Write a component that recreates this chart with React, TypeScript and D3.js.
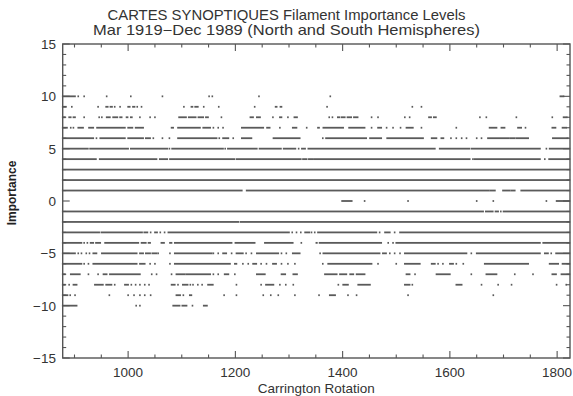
import * as d3 from "d3";

// Carrington rotation extent of the record (Mar 1919 - Dec 1989)
const rotationExtent: [number, number] = [878, 1824];
const importanceExtent: [number, number] = [-15, 15];

const xTickValues = [1000, 1200, 1400, 1600, 1800];
const yTickValues = [-15, -10, -5, 0, 5, 10, 15];

// runs of observed rotations per importance level: [first, last]
const imp10 = [[878, 901], [907, 907], [918, 918], [960, 960], [1005, 1005], [1064, 1064], [1151, 1151], [1157, 1157], [1244, 1244], [1377, 1377], [1806, 1812]];
const imp9 = [[878, 884], [895, 895], [944, 944], [959, 962], [967, 970], [975, 975], [985, 985], [1000, 1003], [1009, 1012], [1017, 1017], [1025, 1025], [1104, 1104], [1118, 1120], [1125, 1130], [1141, 1141], [1169, 1169], [1236, 1236], [1275, 1277], [1284, 1286], [1371, 1371], [1530, 1530], [1547, 1547]];
const imp8 = [[878, 882], [890, 893], [898, 901], [918, 918], [946, 946], [951, 951], [960, 966], [972, 980], [985, 988], [997, 999], [1005, 1007], [1022, 1022], [1041, 1041], [1050, 1050], [1095, 1108], [1113, 1126], [1131, 1140], [1145, 1149], [1174, 1174], [1228, 1233], [1240, 1246], [1270, 1270], [1283, 1286], [1298, 1298], [1310, 1315], [1375, 1375], [1381, 1381], [1391, 1394], [1398, 1404], [1409, 1416], [1421, 1428], [1454, 1454], [1466, 1466], [1516, 1516], [1525, 1525], [1561, 1565], [1570, 1574], [1656, 1656], [1668, 1668], [1724, 1724], [1791, 1791], [1812, 1818]];
const imp7 = [[878, 886], [893, 893], [898, 898], [907, 916], [927, 935], [942, 994], [1000, 1008], [1014, 1028], [1081, 1084], [1093, 1134], [1140, 1153], [1159, 1159], [1168, 1168], [1177, 1177], [1212, 1252], [1259, 1264], [1283, 1283], [1307, 1314], [1333, 1333], [1354, 1356], [1364, 1401], [1412, 1441], [1454, 1454], [1466, 1472], [1482, 1482], [1494, 1494], [1508, 1508], [1519, 1531], [1547, 1547], [1612, 1612], [1674, 1687], [1696, 1702], [1727, 1733], [1741, 1741], [1791, 1797], [1810, 1817]];
const imp6 = [[878, 935], [941, 941], [948, 994], [1000, 1028], [1033, 1041], [1047, 1047], [1064, 1064], [1077, 1077], [1093, 1165], [1170, 1170], [1177, 1187], [1196, 1196], [1212, 1230], [1271, 1320], [1363, 1363], [1369, 1444], [1451, 1472], [1483, 1550], [1566, 1575], [1584, 1588], [1602, 1602], [1612, 1612], [1622, 1622], [1631, 1631], [1650, 1650], [1659, 1659], [1671, 1709], [1712, 1721], [1724, 1746], [1792, 1820]];
const imp5 = [[878, 925], [929, 1000], [1005, 1073], [1077, 1077], [1082, 1177], [1181, 1181], [1186, 1240], [1245, 1285], [1290, 1312], [1318, 1318], [1324, 1330], [1336, 1572], [1581, 1636], [1640, 1768], [1780, 1780], [1786, 1823]];
const imp4 = [[878, 940], [947, 1053], [1059, 1073], [1078, 1198], [1202, 1322], [1326, 1333], [1337, 1345], [1348, 1637], [1643, 1643], [1646, 1768], [1777, 1777], [1785, 1823]];
const imp3 = [[878, 1823]];
const imp2 = [[878, 1823]];
const imp1 = [[878, 1212], [1221, 1673], [1676, 1684], [1699, 1712], [1715, 1721], [1733, 1823]];
const imp0 = [[1399, 1417], [1441, 1441], [1522, 1522], [1650, 1650], [1681, 1681], [1780, 1780], [1799, 1823]];
const impM1 = [[878, 1662], [1667, 1680], [1685, 1690], [1695, 1695], [1700, 1823]];
const impM2 = [[878, 1206], [1210, 1823]];
const impM3 = [[878, 946], [950, 1026], [1030, 1036], [1042, 1042], [1050, 1054], [1060, 1060], [1068, 1068], [1075, 1300], [1306, 1306], [1314, 1314], [1322, 1322], [1330, 1338], [1342, 1342], [1348, 1348], [1354, 1463], [1469, 1469], [1479, 1488], [1497, 1497], [1507, 1823]];
const impM4 = [[878, 913], [918, 918], [924, 924], [930, 935], [940, 948], [957, 1019], [1025, 1033], [1038, 1041], [1062, 1067], [1078, 1081], [1087, 1193], [1200, 1236], [1255, 1307], [1323, 1323], [1351, 1352], [1357, 1472], [1485, 1485], [1494, 1494], [1500, 1768], [1774, 1823]];
const impM5 = [[878, 901], [907, 907], [913, 913], [922, 922], [928, 928], [935, 941], [951, 1016], [1022, 1028], [1033, 1041], [1045, 1053], [1056, 1056], [1078, 1078], [1087, 1156], [1159, 1159], [1168, 1168], [1177, 1183], [1193, 1193], [1202, 1214], [1220, 1220], [1230, 1230], [1240, 1280], [1286, 1286], [1295, 1295], [1307, 1320], [1358, 1358], [1364, 1469], [1475, 1481], [1488, 1488], [1497, 1497], [1507, 1507], [1516, 1631], [1640, 1640], [1650, 1768], [1777, 1783], [1789, 1789], [1798, 1823]];
const impM6 = [[878, 913], [918, 918], [926, 926], [935, 1016], [1022, 1031], [1041, 1041], [1050, 1050], [1078, 1078], [1087, 1190], [1199, 1202], [1214, 1214], [1224, 1224], [1233, 1239], [1248, 1248], [1258, 1258], [1270, 1276], [1286, 1286], [1298, 1298], [1311, 1311], [1363, 1363], [1373, 1454], [1466, 1466], [1500, 1500], [1516, 1544], [1566, 1572], [1578, 1578], [1587, 1587], [1600, 1606], [1612, 1612], [1625, 1625], [1665, 1746], [1786, 1802], [1810, 1823]];
const impM7 = [[878, 882], [893, 910], [926, 926], [944, 944], [954, 960], [966, 1022], [1044, 1044], [1053, 1053], [1081, 1081], [1090, 1106], [1109, 1153], [1159, 1159], [1168, 1168], [1180, 1187], [1199, 1199], [1240, 1255], [1286, 1293], [1308, 1315], [1367, 1389], [1395, 1407], [1414, 1420], [1426, 1441], [1519, 1525], [1535, 1535], [1575, 1600], [1640, 1640], [1668, 1687], [1721, 1721], [1755, 1755], [1791, 1798], [1808, 1823]];
const impM8 = [[878, 882], [890, 890], [898, 904], [938, 953], [959, 969], [975, 975], [994, 1000], [1006, 1006], [1014, 1014], [1022, 1022], [1031, 1031], [1039, 1039], [1081, 1087], [1093, 1093], [1102, 1111], [1116, 1116], [1121, 1121], [1130, 1130], [1138, 1138], [1149, 1158], [1202, 1202], [1248, 1248], [1257, 1271], [1283, 1283], [1294, 1294], [1308, 1308], [1392, 1392], [1401, 1410], [1429, 1451], [1516, 1525], [1530, 1530], [1612, 1622], [1659, 1659], [1690, 1690], [1715, 1715], [1799, 1799], [1817, 1817]];
const impM9 = [[878, 887], [892, 892], [901, 901], [965, 965], [1000, 1000], [1011, 1011], [1022, 1022], [1031, 1031], [1042, 1042], [1090, 1097], [1103, 1103], [1115, 1118], [1179, 1179], [1202, 1202], [1252, 1252], [1266, 1266], [1280, 1280], [1311, 1311], [1356, 1356], [1376, 1386], [1410, 1410], [1426, 1426], [1522, 1522], [1681, 1681]];
const impM10 = [[878, 904], [1015, 1015], [1022, 1022], [1084, 1096], [1101, 1109], [1120, 1120], [1141, 1147]];

const levelRuns: [number, number[][]][] = [
  [10, imp10], [9, imp9], [8, imp8], [7, imp7], [6, imp6], [5, imp5],
  [4, imp4], [3, imp3], [2, imp2], [1, imp1], [0, imp0],
  [-1, impM1], [-2, impM2], [-3, impM3], [-4, impM4], [-5, impM5],
  [-6, impM6], [-7, impM7], [-8, impM8], [-9, impM9], [-10, impM10],
];

const W = 573;
const H = 396;
const left = 62.7;
const right = 570;
const top = 44;
const bottom = 358;

const fmt = (v: number) => (v < 0 ? "\u2212" + Math.abs(v) : String(v));

export default function App() {
  const x = d3.scaleLinear().domain(rotationExtent).range([left, right]);
  const y = d3.scaleLinear().domain(importanceExtent).range([bottom, top]);

  const xMinor = d3.range(900, rotationExtent[1], 50).filter((v) => !xTickValues.includes(v));
  const yMinor = d3.range(-14, 15, 1).filter((v) => !yTickValues.includes(v));

  const ink = "#5a5a5a";
  const axisInk = "#555";
  const font = "'Liberation Sans', Arial, sans-serif";

  return (
    <svg width={W} height={H} style={{ position: "absolute", left: 0, top: 0, background: "#fff" }}>
      <text x={286.5} y={20} textAnchor="middle" fontFamily={font} fontSize={14.2} fill="#333"
        textLength={358} lengthAdjust="spacingAndGlyphs">
        CARTES SYNOPTIQUES Filament Importance Levels
      </text>
      <text x={286.5} y={34.5} textAnchor="middle" fontFamily={font} fontSize={14.2} fill="#333"
        textLength={387} lengthAdjust="spacingAndGlyphs">
        Mar 1919{"\u2212"}Dec 1989 (North and South Hemispheres)
      </text>

      {/* data */}
      <g fill={ink}>
        {levelRuns.map(([lvl, runs]) =>
          runs.map(([a, b], i) => (
            <rect
              key={lvl + "-" + i}
              x={x(a) - 0.8}
              y={y(lvl) - 0.9}
              width={Math.max(1.6, x(b) - x(a) + 1.6)}
              height={1.8}
            />
          ))
        )}
      </g>

      {/* frame */}
      <rect x={left} y={top} width={right - left} height={bottom - top} fill="none" stroke={axisInk} strokeWidth={1.4} />

      <g stroke={axisInk} strokeWidth={1.1}>
        {xTickValues.map((v) => (
          <g key={"xm" + v}>
            <line x1={x(v)} x2={x(v)} y1={bottom} y2={bottom - 7} />
            <line x1={x(v)} x2={x(v)} y1={top} y2={top + 7} />
          </g>
        ))}
        {xMinor.map((v) => (
          <g key={"xn" + v}>
            <line x1={x(v)} x2={x(v)} y1={bottom} y2={bottom - 3.5} />
            <line x1={x(v)} x2={x(v)} y1={top} y2={top + 3.5} />
          </g>
        ))}
        {yTickValues.map((v) => (
          <g key={"ym" + v}>
            <line x1={left} x2={left + 7} y1={y(v)} y2={y(v)} />
            <line x1={right} x2={right - 7} y1={y(v)} y2={y(v)} />
          </g>
        ))}
        {yMinor.map((v) => (
          <g key={"yn" + v}>
            <line x1={left} x2={left + 3.5} y1={y(v)} y2={y(v)} />
            <line x1={right} x2={right - 3.5} y1={y(v)} y2={y(v)} />
          </g>
        ))}
      </g>

      <g fontFamily={font} fontSize={13.5} fill="#333">
        {xTickValues.map((v) => (
          <text key={"xl" + v} x={x(v)} y={377} textAnchor="middle">
            {v}
          </text>
        ))}
        {yTickValues.map((v) => (
          <text key={"yl" + v} x={56} y={y(v) + 5} textAnchor="end">
            {fmt(v)}
          </text>
        ))}
        <text x={(left + right) / 2} y={393} textAnchor="middle">
          Carrington Rotation
        </text>
      </g>

      <text
        transform="translate(16,193) rotate(-90)"
        textAnchor="middle"
        fontFamily={font}
        fontSize={12}
        fontWeight="bold"
        fill="#222"
      >
        Importance
      </text>
    </svg>
  );
}
